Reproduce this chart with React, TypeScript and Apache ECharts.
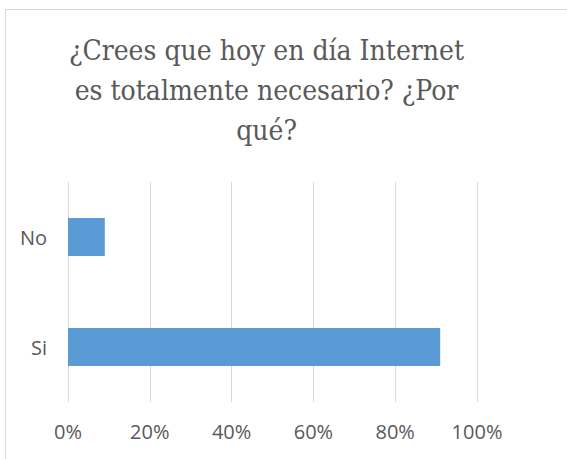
import React, { useEffect, useRef } from "react";
import * as echarts from "echarts";

const titleLines = ["¿Crees que hoy en día Internet", "es totalmente necesario? ¿Por", "qué?"];
const categories = ["Si", "No"];
const values = [0.91, 0.09];
const tickMax = 1;
const tickStep = 0.2;

export default function App() {
  const ref = useRef<HTMLDivElement>(null);
  useEffect(() => {
    if (!ref.current) return;
    const chart = echarts.init(ref.current, null, { renderer: "svg" });
    const titleEls = titleLines.map((t, i) => ({
      type: "text",
      x: 266.5,
      y: 50.3 + i * 40,
      silent: true,
      style: {
        text: t,
        textAlign: "center",
        textVerticalAlign: "middle",
        fontFamily: "DejaVu Serif Condensed",
        fontSize: 28,
        fill: "#595959",
      },
    }));
    chart.setOption({
      animation: false,
      backgroundColor: "#ffffff",
      graphic: [
        {
          type: "rect",
          shape: { x: 5.5, y: 9.5, width: 700, height: 600 },
          style: { fill: "none", stroke: "#D9D9D9", lineWidth: 1 },
          silent: true,
        },
        ...titleEls,
      ],
      grid: { left: 68, right: 90, top: 182, bottom: 57 },
      xAxis: {
        type: "value",
        min: 0,
        max: tickMax,
        interval: tickStep,
        axisLine: { show: false },
        axisTick: { show: false },
        splitLine: { show: true, lineStyle: { color: "#D9D9D9", width: 1 } },
        axisLabel: {
          margin: 19,
          color: "#595959",
          fontFamily: "Open Sans",
          fontSize: 20,
          formatter: (v: number) => Math.round(v * 100) + "%",
        },
      },
      yAxis: {
        type: "category",
        data: categories,
        axisLine: { show: false },
        axisTick: { show: false },
        axisLabel: {
          margin: 21,
          color: "#595959",
          fontFamily: "Open Sans",
          fontSize: 20,
        },
      },
      series: [
        {
          type: "bar",
          data: values,
          barWidth: 38,
          itemStyle: { color: "#5B9BD5" },
        },
      ],
    });
    return () => chart.dispose();
  }, []);
  return (
    <div
      ref={ref}
      style={{ position: "fixed", left: 0, top: 0, width: 567, height: 459 }}
    />
  );
}
